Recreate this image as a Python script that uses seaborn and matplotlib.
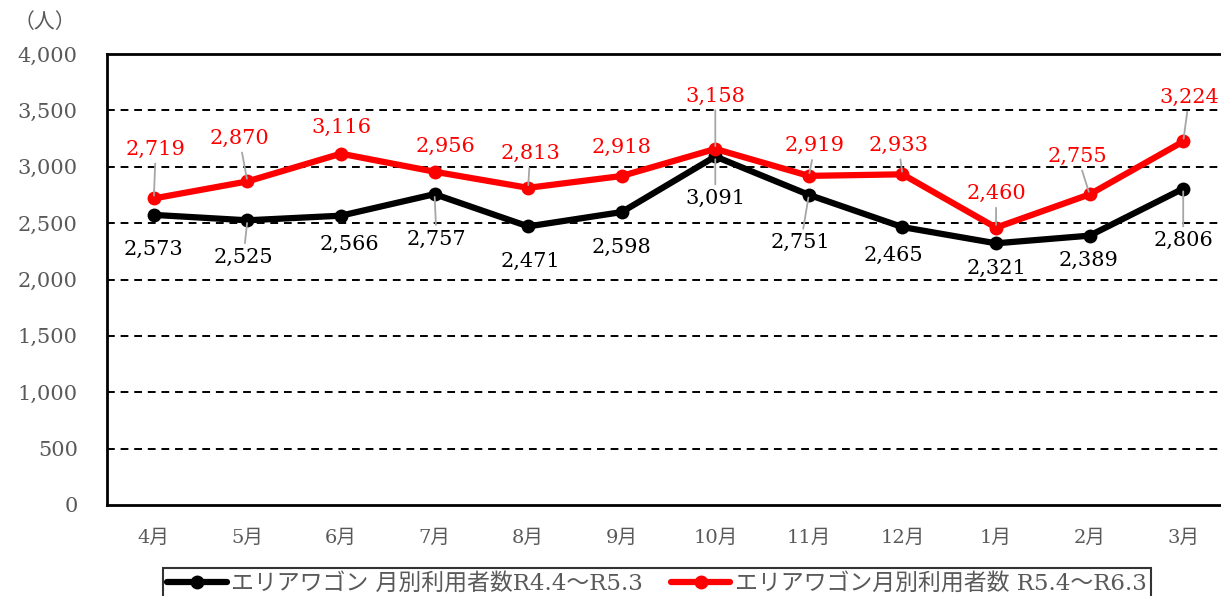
import numpy as np
import pandas as pd
import matplotlib
matplotlib.use('Agg')
import matplotlib.pyplot as plt
import seaborn as sns

months = ['4月', '5月', '6月', '7月', '8月', '9月', '10月', '11月', '12月', '1月', '2月', '3月']
users_r4 = [2573, 2525, 2566, 2757, 2471, 2598, 3091, 2751, 2465, 2321, 2389, 2806]
users_r5 = [2719, 2870, 3116, 2956, 2813, 2918, 3158, 2919, 2933, 2460, 2755, 3224]
label_r4 = 'エリアワゴン 月別利用者数R4.4～R5.3'
label_r5 = 'エリアワゴン月別利用者数 R5.4～R6.3'
yticks = [0, 500, 1000, 1500, 2000, 2500, 3000, 3500, 4000]

# label placement (pixel offsets from the point) and whether a leader line is drawn
offs_r4 = [(0, -35), (-4, -37), (8, -29), (2, -45), (2, -35), (0, -35),
           (0, -42), (-8, -48), (-9, -28), (0, -25), (-1, -25), (0, -52)]
lead_r4 = [False, True, False, True, False, False, True, True, False, False, False, True]
offs_r5 = [(2, 49), (-8, 43), (0, 26), (11, 25), (2, 34), (0, 29),
           (0, 53), (6, 30), (-4, 29), (0, 34), (-12, 38), (6, 44)]
lead_r5 = [True, True, False, False, True, False, True, True, True, True, True, True]

sns.set_style('white')
plt.rcParams['font.family'] = ['DejaVu Serif', 'Noto Sans CJK JP']

pos = np.arange(len(months))
df = pd.DataFrame({
    'pos': np.concatenate([pos, pos]),
    'users': users_r4 + users_r5,
    'series': [label_r4] * len(months) + [label_r5] * len(months),
})

fig = plt.figure(figsize=(12.21, 5.96), dpi=100)
ax = fig.add_axes([107 / 1221, 1 - 505 / 596, (1230 - 107) / 1221, (505 - 54) / 596])

for y in yticks[1:-1]:
    ax.axhline(y, color='black', lw=1.4, ls=(0, (4, 3)), zorder=1)

sns.lineplot(data=df, x='pos', y='users', hue='series',
             palette={label_r4: 'black', label_r5: '#ff0000'},
             marker='o', markersize=10, markeredgewidth=0, linewidth=4.5,
             ax=ax, zorder=3)

def put_labels(vals, offs, leads, color):
    for i, v in enumerate(vals):
        ap = None
        if leads[i]:
            ap = dict(arrowstyle='-', color='#a6a6a6', lw=1.3, shrinkA=1, shrinkB=2)
        ax.annotate(f'{v:,}', xy=(i, v), xytext=offs[i], textcoords='offset pixels',
                    ha='center', va='center', fontsize=15, color=color,
                    arrowprops=ap, zorder=4)

put_labels(users_r4, offs_r4, lead_r4, 'black')
put_labels(users_r5, offs_r5, lead_r5, '#ff0000')

ax.set_xlim(-0.5, len(months) - 0.5)
ax.set_ylim(0, 4000)
ax.set_xticks(pos)
ax.set_xticklabels(months)
ax.set_yticks(yticks)
ax.set_yticklabels([f'{t:,}' for t in yticks])
ax.tick_params(axis='x', length=0, pad=17, labelsize=14, labelcolor='#595959')
ax.tick_params(axis='y', length=0, pad=21, labelsize=15, labelcolor='#595959')
ax.set_xlabel('')
ax.set_ylabel('')
for s in ax.spines.values():
    s.set_color('black')
    s.set_linewidth(2)

fig.text(45 / 1221, 1 - 22 / 596, '（人）', ha='center', va='center',
         fontsize=15, color='#595959')

leg = ax.legend(loc='upper center', bbox_to_anchor=(657 / 1221, 1 - 557 / 596),
                bbox_transform=fig.transFigure, ncol=2, frameon=True, fancybox=False,
                edgecolor='black', fontsize=16.5, handlelength=2.6, columnspacing=1.2,
                borderpad=0.2, handletextpad=0.2)
leg.get_frame().set_linewidth(1.5)
for t in leg.get_texts():
    t.set_color('#595959')

fig.savefig('out.png', dpi=100)
